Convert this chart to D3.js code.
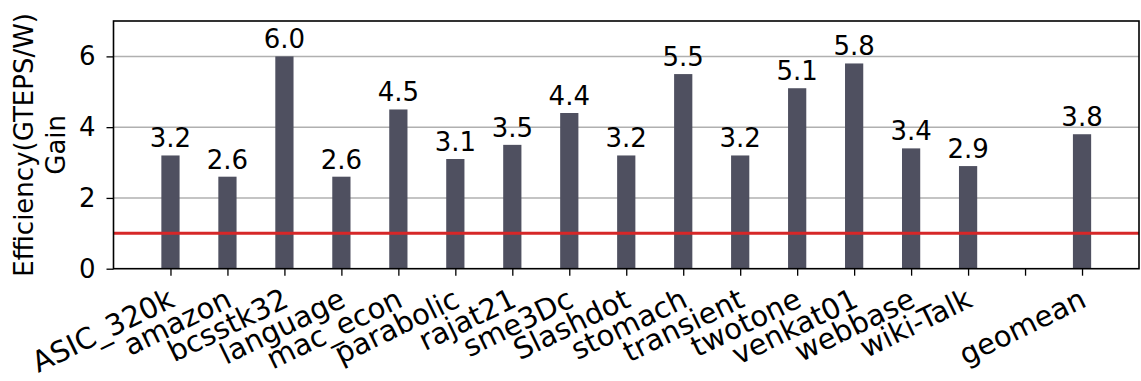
<!DOCTYPE html>
<html>
<head>
<meta charset="utf-8">
<script src="https://cdn.jsdelivr.net/npm/d3@7"></script>
<style>
  html, body { margin: 0; padding: 0; background: #fff; }
  svg { display: block; font-family: "DejaVu Sans", sans-serif; }
</style>
</head>
<body>
<svg id="chart" width="1141" height="381"></svg>
<script>
// Graphs, with an empty slot before the geometric mean
const categories = ["ASIC_320k", "amazon", "bcsstk32", "language", "mac_econ", "parabolic",
  "rajat21", "sme3Dc", "Slashdot", "stomach", "transient", "twotone", "venkat01",
  "webbase", "wiki-Talk", "", "geomean"];
const gains = [3.2, 2.6, 6.0, 2.6, 4.5, 3.1, 3.5, 4.4, 3.2, 5.5, 3.2, 5.1, 5.8, 3.4, 2.9, null, 3.8];
const yTicks = [0, 2, 4, 6];
const baseline = 1;

const margin = { left: 113.5, right: 2, top: 21, bottom: 113 };
const W = 1141, H = 381;
const svg = d3.select("#chart");

const x = d3.scaleLinear().domain([-1, categories.length]).range([margin.left, W - margin.right]);
const y = d3.scaleLinear().domain([0, 7]).range([H - margin.bottom + 0.7, margin.top]);
const barW = (x(1) - x(0)) * 0.32;
const fs = 26;       // value labels, y ticks, y title
const fsCat = 29;    // category labels

// horizontal grid
svg.append("g").selectAll("line").data(yTicks.filter(d => d > 0)).join("line")
  .attr("x1", x(-1)).attr("x2", x(categories.length))
  .attr("y1", d => y(d)).attr("y2", d => y(d))
  .attr("stroke", "#b0b0b0").attr("stroke-width", 1.5);

const data = categories.map((c, i) => ({ c, i, v: gains[i] })).filter(d => d.v != null);

// bars
svg.append("g").selectAll("rect").data(data).join("rect")
  .attr("x", d => x(d.i) - barW / 2)
  .attr("width", barW)
  .attr("y", d => y(d.v))
  .attr("height", d => y(0) - y(d.v))
  .attr("fill", "#4f5060");

// value labels
svg.append("g").selectAll("text").data(data).join("text")
  .attr("x", d => x(d.i))
  .attr("y", d => y(d.v) - 8)
  .attr("text-anchor", "middle")
  .attr("font-size", fs)
  .attr("fill", "#000")
  .text(d => d.v.toFixed(1));

// reference line at 1x
svg.append("line")
  .attr("x1", x(-1)).attr("x2", x(categories.length))
  .attr("y1", y(baseline)).attr("y2", y(baseline))
  .attr("stroke", "#d62728").attr("stroke-width", 3);

// axes
const yAxis = d3.axisLeft(y).tickValues(yTicks).tickFormat(d3.format("d")).tickSize(7).tickPadding(11);
const gy = svg.append("g").attr("transform", `translate(${x(-1)},0)`).call(yAxis);
gy.select(".domain").remove();
gy.selectAll("line").attr("stroke", "#000").attr("stroke-width", 1.3);
gy.selectAll("text").attr("font-size", fs).attr("font-family", "DejaVu Sans").attr("fill", "#000");

const xAxis = d3.axisBottom(x).tickValues(d3.range(categories.length)).tickSize(7).tickFormat("");
const gx = svg.append("g").attr("transform", `translate(0,${y(0)})`).call(xAxis);
gx.select(".domain").remove();
gx.selectAll("line").attr("stroke", "#000").attr("stroke-width", 1.3);

// rotated category labels, anchored at the end of their baseline
svg.append("g").selectAll("text").data(categories.map((c, i) => ({ c, i }))).join("text")
  .attr("transform", d => `translate(${x(d.i) + 6},${y(0) + 37}) rotate(-26)`)
  .attr("text-anchor", "end")
  .attr("font-size", fsCat)
  .attr("fill", "#000")
  .text(d => d.c);

// frame
svg.append("rect")
  .attr("x", x(-1)).attr("y", y(7))
  .attr("width", x(categories.length) - x(-1))
  .attr("height", y(0) - y(7))
  .attr("fill", "none").attr("stroke", "#000").attr("stroke-width", 1.6);

// y title, two lines
const cy = (y(0) + y(7)) / 2;
const title = svg.append("text")
  .attr("transform", `translate(0,${cy}) rotate(-90)`)
  .attr("text-anchor", "middle")
  .attr("font-size", fs)
  .attr("fill", "#000");
title.append("tspan").attr("x", 0).attr("y", 33).text("Efficiency(GTEPS/W)");
title.append("tspan").attr("x", 0).attr("y", 65).text("Gain");
</script>
</body>
</html>
